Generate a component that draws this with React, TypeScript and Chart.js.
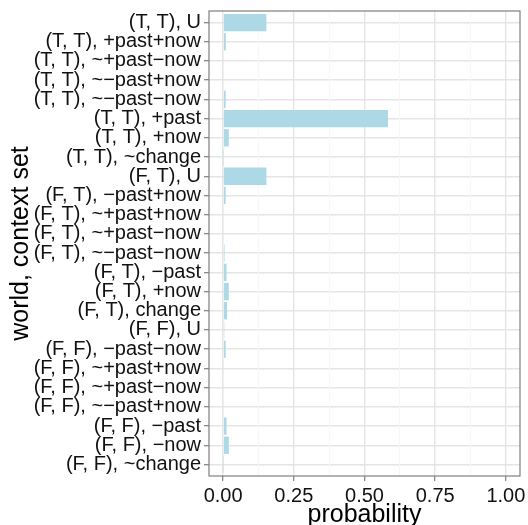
import React, { useEffect, useRef } from "react";
import { Chart, registerables } from "chart.js";

Chart.register(...registerables);

const categories: string[] = [
  "(T, T), U",
  "(T, T), +past+now",
  "(T, T), ~+past\u2212now",
  "(T, T), ~\u2212past+now",
  "(T, T), ~\u2212past\u2212now",
  "(T, T), +past",
  "(T, T), +now",
  "(T, T), ~change",
  "(F, T), U",
  "(F, T), \u2212past+now",
  "(F, T), ~+past+now",
  "(F, T), ~+past\u2212now",
  "(F, T), ~\u2212past\u2212now",
  "(F, T), \u2212past",
  "(F, T), +now",
  "(F, T), change",
  "(F, F), U",
  "(F, F), \u2212past\u2212now",
  "(F, F), ~+past+now",
  "(F, F), ~+past\u2212now",
  "(F, F), ~\u2212past+now",
  "(F, F), \u2212past",
  "(F, F), \u2212now",
  "(F, F), ~change",
];

const probabilities: number[] = [
  0.153, 0.0095, 0.002, 0.003, 0.009, 0.583, 0.02, 0.001,
  0.153, 0.009, 0.002, 0.002, 0.005, 0.012, 0.02, 0.014,
  0.004, 0.009, 0.002, 0.002, 0.002, 0.012, 0.02, 0.001,
];

const xTickValues: number[] = [0, 0.125, 0.25, 0.375, 0.5, 0.625, 0.75, 0.875, 1.0];
const xMajorTicks: number[] = [0, 0.25, 0.5, 0.75, 1.0];

const FONT = "'Liberation Sans', Arial, Helvetica, sans-serif";

export default function App() {
  const ref = useRef<HTMLCanvasElement | null>(null);

  useEffect(() => {
    if (!ref.current) return;
    const n = categories.length;
    const isMajor = (v: number) => xMajorTicks.some((m) => Math.abs(m - v) < 1e-9);

    const borderPlugin = {
      id: "panelBorder",
      afterDatasetsDraw(chart: any) {
        const { ctx, chartArea } = chart;
        ctx.save();
        ctx.strokeStyle = "#7f7f7f";
        ctx.lineWidth = 1.2;
        ctx.strokeRect(chartArea.left, chartArea.top, chartArea.right - chartArea.left, chartArea.bottom - chartArea.top);
        ctx.restore();
      },
    };

    const chart = new Chart(ref.current, {
      type: "bar",
      data: {
        datasets: [
          {
            data: probabilities.map((v, i) => ({ x: v, y: i })),
            backgroundColor: "#ADD8E6",
            borderWidth: 0,
            barPercentage: 0.9,
            categoryPercentage: 1.0,
          },
        ],
      },
      options: {
        indexAxis: "y",
        animation: false,
        responsive: false,
        maintainAspectRatio: false,
        layout: { padding: { left: 0, top: 11, right: 8, bottom: 0 } },
        plugins: {
          legend: { display: false },
          tooltip: { enabled: false },
        },
        scales: {
          y: {
            type: "linear",
            reverse: true,
            offset: false,
            min: -0.6,
            max: n - 1 + 0.6,
            afterBuildTicks: (scale: any) => {
              scale.ticks = categories.map((_, i) => ({ value: i }));
            },
            afterFit: (scale: any) => {
              scale.width = 209;
              scale.paddingTop = 0;
              scale.paddingBottom = 0;
            },
            ticks: {
              autoSkip: false,
              padding: 3,
              color: "#111",
              font: { family: FONT, size: 20 },
              callback: (v: any) => categories[Math.round(Number(v))] ?? "",
            },
            grid: {
              offset: false,
              color: "#E5E5E5",
              lineWidth: 1.4,
              tickLength: 5,
              tickColor: "#7f7f7f",
              tickWidth: 1.2,
            },
            border: { display: false },
            title: {
              display: true,
              text: "world, context set",
              color: "#000",
              font: { family: FONT, size: 25 },
              padding: { top: 6, bottom: 0 },
            },
          },
          x: {
            type: "linear",
            min: -0.05,
            max: 1.05,
            afterBuildTicks: (scale: any) => {
              scale.ticks = xTickValues.map((v) => ({ value: v }));
            },
            afterFit: (scale: any) => {
              scale.height = 49;
              scale.paddingRight = 0;
              scale.paddingLeft = 0;
            },
            ticks: {
              autoSkip: false,
              maxRotation: 0,
              padding: 3,
              color: "#111",
              font: { family: FONT, size: 20 },
              callback: (v: any) => (isMajor(Number(v)) ? Number(v).toFixed(2) : ""),
            },
            grid: {
              color: (ctx: any) => (isMajor(ctx.tick?.value ?? -1) ? "#E5E5E5" : "#F7F7F7"),
              lineWidth: (ctx: any) => (isMajor(ctx.tick?.value ?? -1) ? 1.4 : 1),
              tickLength: 5,
              tickColor: (ctx: any) => (isMajor(ctx.tick?.value ?? -1) ? "#7f7f7f" : "rgba(0,0,0,0)"),
              tickWidth: 1.2,
            },
            border: { display: false },
            title: {
              display: true,
              text: "probability",
              color: "#000",
              font: { family: FONT, size: 25, lineHeight: 0.8 },
              padding: { top: 0, bottom: 0 },
            },
          },
        },
      },
      plugins: [borderPlugin],
    });

    return () => chart.destroy();
  }, []);

  return (
    <div style={{ position: "absolute", left: 0, top: 0, width: 528, height: 525, background: "#fff" }}>
      <canvas ref={ref} width={528} height={525} style={{ width: 528, height: 525, display: "block" }} />
    </div>
  );
}
